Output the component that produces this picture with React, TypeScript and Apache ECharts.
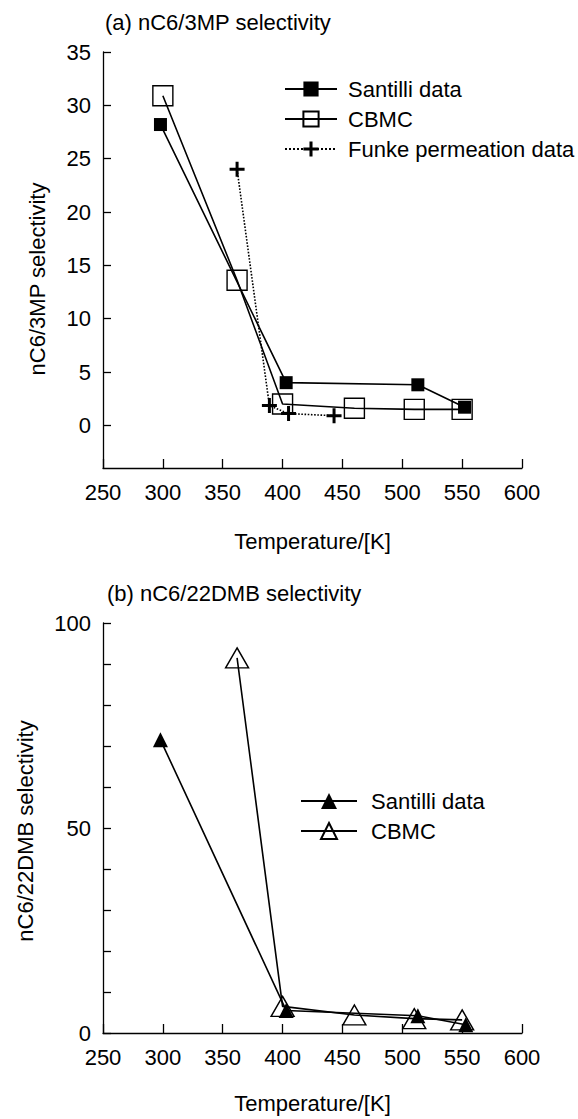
import React, { useEffect, useRef } from "react";
import * as echarts from "echarts";

const FONT = "'Liberation Sans', Arial, Helvetica, sans-serif";

// ---- Chart (a) data ----
const xTicks = [250, 300, 350, 400, 450, 500, 550, 600];
const yTicksA = [0, 5, 10, 15, 20, 25, 30, 35];
const santilliA_T = [298, 403, 513, 552];
const santilliA_S = [28.2, 4.0, 3.8, 1.7];
const cbmcA_T = [300, 362, 400, 460, 510, 550];
const cbmcA_S = [30.9, 13.6, 2.0, 1.6, 1.5, 1.5];
const funkeA_T = [362, 389, 405, 443];
const funkeA_S = [24.0, 1.85, 1.1, 0.9];

// ---- Chart (b) data ----
const yLabelsB = [0, 50, 100];
const santilliB_T = [298, 403, 513, 553];
const santilliB_S = [71.5, 5.5, 4.2, 2.0];
const cbmcB_T = [362, 400, 460, 510, 550];
const cbmcB_S = [91.5, 6.5, 4.4, 3.5, 3.2];

const PLUS = "path://M4,0H6V4H10V6H6V10H4V6H0V4H4Z";

const zip = (xs: number[], ys: number[]) => xs.map((x, i) => [x, ys[i]]);

const FS = 22;
const axisCommon = {
  axisLine: { show: true, onZero: false, lineStyle: { color: "#000", width: 1.3 } },
  splitLine: { show: false },
};

function xAxisDef(gap: number) {
  return {
    type: "value",
    min: 250,
    max: 600,
    interval: 50,
    ...axisCommon,
    axisTick: { show: true, inside: true, length: 9, lineStyle: { color: "#000", width: 1.3 } },
    axisLabel: { margin: 13, fontSize: FS, color: "#000", fontFamily: FONT, customValues: xTicks },
    name: "Temperature/[K]",
    nameLocation: "middle",
    nameGap: gap,
    nameTextStyle: { fontSize: FS, color: "#000", fontFamily: FONT },
  };
}

const lineBlack = { color: "#000", width: 1.6 };

function optionA() {
  return {
    animation: false,
    textStyle: { fontFamily: FONT, color: "#000" },
    title: {
      text: "(a) nC6/3MP selectivity",
      left: 105,
      top: 11,
      padding: 0,
      textStyle: { fontSize: FS, fontWeight: "normal", color: "#000", fontFamily: FONT, lineHeight: 22 },
    },
    grid: { left: 103, top: 52, width: 419, height: 416 },
    xAxis: xAxisDef(62),
    yAxis: {
      type: "value",
      min: -4,
      max: 35,
      ...axisCommon,
      axisTick: { show: true, inside: true, length: 8, customValues: yTicksA, lineStyle: { color: "#000", width: 1.3 } },
      axisLabel: { margin: 12, fontSize: FS, color: "#000", fontFamily: FONT, customValues: yTicksA },
    },
    legend: {
      orient: "vertical",
      left: 284,
      top: 78,
      padding: 0,
      itemGap: 8,
      itemWidth: 52,
      itemHeight: 19,
      selectedMode: false,
      textStyle: { fontSize: FS, color: "#000", fontFamily: FONT, lineHeight: 22, padding: [0, 0, 0, 6] },
      data: ["Santilli data", "CBMC", "Funke permeation data"],
    },
    graphic: [
      {
        type: "text",
        x: 37,
        y: 279,
        rotation: Math.PI / 2,
        style: { text: "nC6/3MP selectivity", fontSize: FS, fontFamily: FONT, fill: "#000", align: "center", verticalAlign: "middle" },
      },
    ],
    series: [
      {
        type: "line",
        name: "Santilli data",
        data: zip(santilliA_T, santilliA_S),
        symbol: "rect",
        symbolSize: 13,
        itemStyle: { color: "#000" },
        lineStyle: lineBlack,
        silent: true,
      },
      {
        type: "line",
        name: "CBMC",
        data: zip(cbmcA_T, cbmcA_S),
        symbol: "rect",
        symbolSize: 20,
        itemStyle: { color: "rgba(0,0,0,0)", borderColor: "#000", borderWidth: 1.4 },
        lineStyle: lineBlack,
        silent: true,
      },
      {
        type: "line",
        name: "Funke permeation data",
        data: zip(funkeA_T, funkeA_S),
        symbol: PLUS,
        symbolSize: 15,
        itemStyle: { color: "#000" },
        lineStyle: { color: "#000", width: 1.6, type: "dotted" },
        silent: true,
      },
    ],
  };
}

function optionB() {
  return {
    animation: false,
    textStyle: { fontFamily: FONT, color: "#000" },
    title: {
      text: "(b) nC6/22DMB selectivity",
      left: 107,
      top: 17,
      padding: 0,
      textStyle: { fontSize: FS, fontWeight: "normal", color: "#000", fontFamily: FONT, lineHeight: 22 },
    },
    grid: { left: 103, top: 58, width: 419, height: 416 },
    xAxis: xAxisDef(59),
    yAxis: {
      type: "value",
      min: 0,
      max: 100,
      interval: 10,
      ...axisCommon,
      axisTick: { show: true, inside: true, length: 8, lineStyle: { color: "#000", width: 1.3 } },
      axisLabel: {
        margin: 12,
        fontSize: FS,
        color: "#000",
        fontFamily: FONT,
        formatter: (v: number) => (yLabelsB.includes(v) ? String(v) : ""),
      },
    },
    legend: {
      orient: "vertical",
      left: 300,
      top: 225,
      padding: 0,
      itemGap: 8,
      itemWidth: 56,
      itemHeight: 20,
      selectedMode: false,
      textStyle: { fontSize: FS, color: "#000", fontFamily: FONT, lineHeight: 22, padding: [0, 0, 0, 9] },
      data: ["Santilli data", "CBMC"],
    },
    graphic: [
      {
        type: "text",
        x: 25,
        y: 266,
        rotation: Math.PI / 2,
        style: { text: "nC6/22DMB selectivity", fontSize: FS, fontFamily: FONT, fill: "#000", align: "center", verticalAlign: "middle" },
      },
    ],
    series: [
      {
        type: "line",
        name: "Santilli data",
        data: zip(santilliB_T, santilliB_S),
        symbol: "triangle",
        symbolSize: 15,
        itemStyle: { color: "#000" },
        lineStyle: lineBlack,
        silent: true,
      },
      {
        type: "line",
        name: "CBMC",
        data: zip(cbmcB_T, cbmcB_S),
        symbol: "triangle",
        symbolSize: [23, 20],
        itemStyle: { color: "rgba(0,0,0,0)", borderColor: "#000", borderWidth: 1.4 },
        lineStyle: lineBlack,
        silent: true,
      },
    ],
  };
}

function Chart({ top, height, option }: { top: number; height: number; option: any }) {
  const ref = useRef<HTMLDivElement>(null);
  useEffect(() => {
    if (!ref.current) return;
    const chart = echarts.init(ref.current, undefined, { renderer: "svg" });
    chart.setOption(option);
    return () => chart.dispose();
  }, []);
  return (
    <div
      ref={ref}
      style={{ position: "absolute", left: 0, top, width: 578, height, background: "#fff" }}
    />
  );
}

export default function App() {
  return (
    <div style={{ position: "fixed", left: 0, top: 0, width: 578, height: 1119, background: "#fff" }}>
      <Chart top={0} height={565} option={optionA()} />
      <Chart top={565} height={554} option={optionB()} />
    </div>
  );
}
